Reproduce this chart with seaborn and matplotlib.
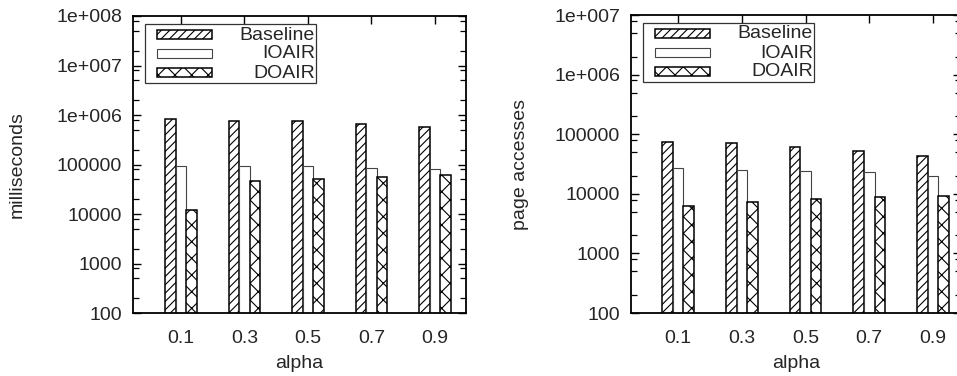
import numpy as np
import pandas as pd
import seaborn as sns
import matplotlib
matplotlib.use("Agg")
import matplotlib.pyplot as plt
from matplotlib.patches import Rectangle
from matplotlib.ticker import FixedLocator, FixedFormatter, LogLocator, NullFormatter

# ---- data -------------------------------------------------------------
alphas = ["0.1", "0.3", "0.5", "0.7", "0.9"]
methods = ["Baseline", "IOAIR", "DOAIR"]

time_baseline = [830000, 740000, 740000, 650000, 570000]
time_ioair = [93000, 93000, 95000, 85000, 80000]
time_doair = [12000, 46000, 51000, 55000, 60000]

pages_baseline = [74000, 71000, 61000, 52000, 43000]
pages_ioair = [27000, 25000, 24000, 23000, 20000]
pages_doair = [6300, 7400, 8300, 8800, 9100]

time_ticks = [100, 1000, 10000, 100000, 1e6, 1e7, 1e8]
time_ticklabels = ["100", "1000", "10000", "100000", "1e+006", "1e+007", "1e+008"]
pages_ticks = [100, 1000, 10000, 100000, 1e6, 1e7]
pages_ticklabels = ["100", "1000", "10000", "100000", "1e+006", "1e+007"]

# ---- style ------------------------------------------------------------
sns.set_theme(style="ticks")
plt.rcParams["font.family"] = ["Liberation Sans", "DejaVu Sans"]
FS = 14
plt.rcParams["font.size"] = FS
plt.rcParams["hatch.color"] = "black"
plt.rcParams["hatch.linewidth"] = 0.8

W, H = 957, 376
fig = plt.figure(figsize=(W / 100, H / 100), dpi=100)


def px_axes(left, top, right, bottom):
    return fig.add_axes([left / W, 1 - bottom / H, (right - left) / W, (bottom - top) / H])


hatches = {"Baseline": "////", "IOAIR": "", "DOAIR": "xx"}
edges = {"Baseline": "black", "IOAIR": "#444444", "DOAIR": "black"}
widths = {"Baseline": 1.1, "IOAIR": 0.8, "DOAIR": 1.1}


def long_frame(b, i, d):
    return pd.DataFrame({
        "alpha": alphas * 3,
        "value": list(b) + list(i) + list(d),
        "method": [m for m in methods for _ in alphas],
    })


def draw_legend(ax_left, ax_top):
    # framed key: hatched swatch on the left, right-aligned label
    x0, y0 = ax_left + 12, ax_top + 8
    frame = Rectangle((x0 / W, 1 - (y0 + 59) / H), 171 / W, 59 / H,
                      transform=fig.transFigure, fill=False, edgecolor="#333333",
                      linewidth=0.9, clip_on=False, zorder=5)
    fig.add_artist(frame)
    for k, m in enumerate(methods):
        cy = y0 + 10 + 19 * k
        sw = Rectangle(((x0 + 12) / W, 1 - (cy + 4.5) / H), 55 / W, 9 / H,
                       transform=fig.transFigure, facecolor="white",
                       edgecolor=edges[m], linewidth=widths[m], hatch=hatches[m],
                       clip_on=False, zorder=6)
        fig.add_artist(sw)
        fig.text((x0 + 170) / W, 1 - (cy + 1) / H, m, ha="right", va="center",
                 fontsize=FS, zorder=6)


def panel(ax, df, ticks, ticklabels, ylim, xlim, ylabel, ylabel_x):
    sns.barplot(data=df, x="alpha", y="value", hue="method", hue_order=methods,
                order=alphas, palette=["white"] * 3, width=0.5, dodge=True,
                edgecolor="black", linewidth=1.1, saturation=1, legend=False,
                ax=ax)
    for cont, m in zip(ax.containers, methods):
        for bar in cont:
            bar.set_hatch(hatches[m])
            bar.set_edgecolor(edges[m])
            bar.set_linewidth(widths[m])
    ax.set_yscale("log")
    ax.set_ylim(*ylim)
    ax.set_xlim(*xlim)
    ax.yaxis.set_major_locator(FixedLocator(ticks))
    ax.yaxis.set_major_formatter(FixedFormatter(ticklabels))
    ax.yaxis.set_minor_locator(LogLocator(base=10, subs=(2.0, 5.0, 8.0)))
    ax.yaxis.set_minor_formatter(NullFormatter())
    ax.tick_params(axis="both", which="major", direction="in", length=6,
                   width=1.0, top=True, right=True, labelsize=FS, color="black")
    ax.tick_params(axis="y", which="major", pad=8)
    ax.tick_params(axis="x", which="major", pad=12)
    ax.tick_params(axis="y", which="minor", direction="in", length=4,
                   width=0.9, right=True, color="black")
    for s in ax.spines.values():
        s.set_visible(True)
        s.set_linewidth(1.3)
        s.set_color("black")
    ax.set_xlabel("alpha", fontsize=FS)
    ax.xaxis.set_label_coords(0.5, -0.14)
    ax.set_ylabel(ylabel, fontsize=FS)
    ax.yaxis.set_label_coords(ylabel_x, 0.5)
    ax.set_facecolor("white")


ax1 = px_axes(133, 16, 466, 313)
panel(ax1, long_frame(time_baseline, time_ioair, time_doair),
      time_ticks, time_ticklabels, (100, 1e8), (-0.756, 4.49),
      "milliseconds", -0.322)
draw_legend(133, 16)

ax2 = px_axes(631, 15, 961, 313)
panel(ax2, long_frame(pages_baseline, pages_ioair, pages_doair),
      pages_ticks, pages_ticklabels, (100, 1e7), (-0.74, 4.44),
      "page accesses", -0.31)
draw_legend(631, 15)

fig.savefig("out.png", dpi=100)
